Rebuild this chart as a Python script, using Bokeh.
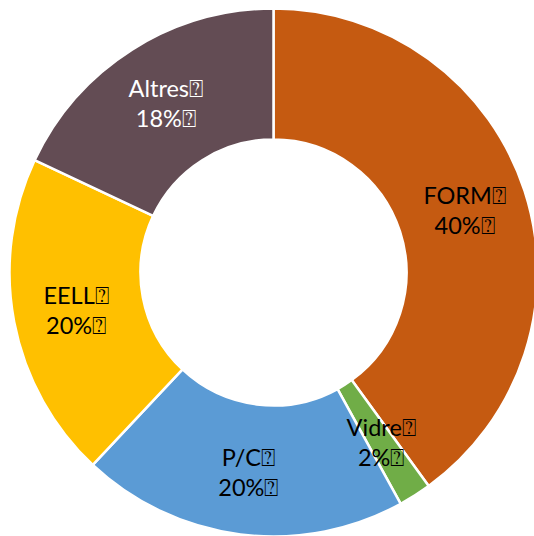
import math
from bokeh.plotting import figure
from bokeh.models import Range1d, ColumnDataSource
from bokeh.core.properties import value
from bokeh.embed import file_html
from bokeh.resources import INLINE

categories = ["FORM", "Vidre", "P/C", "EELL", "Altres"]
values = [40, 2, 20, 20, 18]
pct_labels = ["40%", "2%", "20%", "20%", "18%"]
colors = ["#C55A11", "#70AD47", "#5B9BD5", "#FFC000", "#634C54"]
text_colors = ["#000000", "#000000", "#000000", "#000000", "#FFFFFF"]
MARK = "\u2370"

W, H = 534, 536
cx, cy = 273, 264
r_out, r_in, r_lab = 264, 133, 201

total = float(sum(values))
starts, ends, lx, ly = [], [], [], []
a = math.pi / 2
for v in values:
    da = 2 * math.pi * v / total
    starts.append(a)
    ends.append(a - da)
    mid = a - da / 2
    lx.append(cx + r_lab * math.cos(mid))
    ly.append(cy + r_lab * math.sin(mid))
    a -= da

src = ColumnDataSource(dict(
    start=starts, end=ends, color=colors, tcolor=text_colors,
    name=[c + MARK for c in categories], pct=[p + MARK for p in pct_labels],
    lx=lx, ly=ly,
))

p = figure(width=W, height=H, output_backend="svg", toolbar_location=None,
           x_range=Range1d(0, W), y_range=Range1d(0, H), min_border=0)
p.axis.visible = False
p.grid.visible = False
p.outline_line_color = None
p.background_fill_color = "white"

p.annular_wedge(x=cx, y=cy, inner_radius=r_in, outer_radius=r_out,
                start_angle="start", end_angle="end", direction="clock",
                fill_color="color", line_color="white", line_width=2.5, source=src)

common = dict(text_font=value("Lato"), text_font_size="23.5px",
              text_align="center", text_baseline="middle", text_color="tcolor", source=src)
p.text(x="lx", y="ly", text="name", y_offset=-15, **common)
p.text(x="lx", y="ly", text="pct", y_offset=15, **common)

open("out.html", "w").write(file_html(p, INLINE))
